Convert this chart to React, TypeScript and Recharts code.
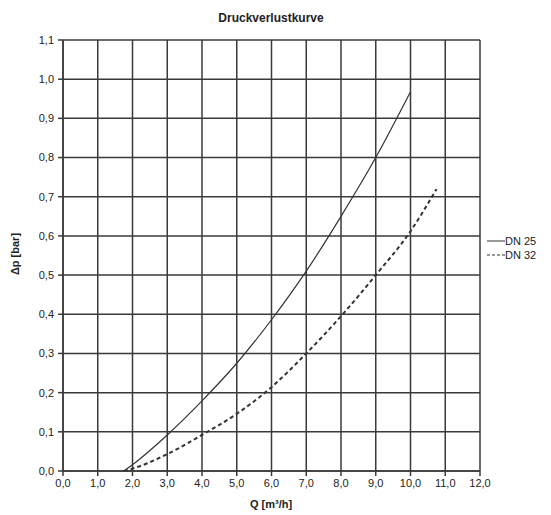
import {
  LineChart,
  Line,
  XAxis,
  YAxis,
  CartesianGrid,
} from "recharts";

// Q [m³/h] -> Δp [bar]
const dn25 = [
  { x: 1.75, y: 0 },
  { x: 2, y: 0.016 },
  { x: 3, y: 0.092 },
  { x: 4, y: 0.179 },
  { x: 5, y: 0.275 },
  { x: 6, y: 0.386 },
  { x: 7, y: 0.51 },
  { x: 8, y: 0.65 },
  { x: 9, y: 0.8 },
  { x: 10, y: 0.968 },
];

const dn32 = [
  { x: 1.75, y: 0 },
  { x: 2, y: 0.006 },
  { x: 3, y: 0.043 },
  { x: 4, y: 0.092 },
  { x: 5, y: 0.146 },
  { x: 6, y: 0.214 },
  { x: 7, y: 0.3 },
  { x: 8, y: 0.395 },
  { x: 9, y: 0.5 },
  { x: 10, y: 0.612 },
  { x: 10.75, y: 0.72 },
];

const xTicks = [0, 1, 2, 3, 4, 5, 6, 7, 8, 9, 10, 11, 12];
const yTicks = [0, 0.1, 0.2, 0.3, 0.4, 0.5, 0.6, 0.7, 0.8, 0.9, 1.0, 1.1];

const font = "'Liberation Sans', Arial, sans-serif";
const fmt = (v: number) => v.toFixed(1).replace(".", ",");

const labelStyle = {
  position: "absolute" as const,
  fontFamily: font,
  fontWeight: "bold" as const,
  fontSize: 11,
  color: "#222",
  textAlign: "center" as const,
};

export default function App() {
  return (
    <div style={{ position: "absolute", left: 0, top: 0, width: 551, height: 515, background: "#fff" }}>
      <div style={{ ...labelStyle, top: 11, left: 62, width: 418, fontSize: 12 }}>
        Druckverlustkurve
      </div>
      <div style={{ ...labelStyle, top: 498, left: 62, width: 418 }}>Q [m³/h]</div>
      <div
        style={{
          ...labelStyle,
          left: 15 - 30,
          top: 255 - 7,
          width: 60,
          transform: "rotate(-90deg)",
        }}
      >
        Δp [bar]
      </div>

      {/* legend */}
      <div
        style={{
          position: "absolute",
          left: 487,
          top: 234,
          fontFamily: font,
          fontSize: 11,
          color: "#222",
          lineHeight: "14px",
        }}
      >
        <div style={{ display: "flex", alignItems: "center" }}>
          <svg width={18} height={4}>
            <line x1={0} y1={2} x2={18} y2={2} stroke="#333" strokeWidth={1} />
          </svg>
          <span>DN 25</span>
        </div>
        <div style={{ display: "flex", alignItems: "center" }}>
          <svg width={18} height={4}>
            <line x1={0} y1={2} x2={18} y2={2} stroke="#333" strokeWidth={1} strokeDasharray="3 2" />
          </svg>
          <span>DN 32</span>
        </div>
      </div>

      <LineChart
        width={551}
        height={515}
        margin={{ top: 40, right: 71, bottom: 14, left: 0 }}
      >
        <CartesianGrid stroke="#3a3a3a" strokeWidth={1.5} />
        <XAxis
          type="number"
          dataKey="x"
          domain={[0, 12]}
          ticks={xTicks}
          tickFormatter={fmt}
          interval={0}
          height={30}
          tickSize={5}
          tickMargin={3}
          stroke="#3a3a3a"
          strokeWidth={1.5}
          tick={{ fontFamily: font, fontSize: 11, fill: "#222" }}
          allowDuplicatedCategory={false}
        />
        <YAxis
          type="number"
          dataKey="y"
          domain={[0, 1.1]}
          ticks={yTicks}
          tickFormatter={fmt}
          interval={0}
          width={63}
          tickSize={5}
          tickMargin={4}
          stroke="#3a3a3a"
          strokeWidth={1.5}
          tick={{ fontFamily: font, fontSize: 11, fill: "#222" }}
        />
        <Line
          data={dn25}
          dataKey="y"
          name="DN 25"
          type="monotone"
          stroke="#333"
          strokeWidth={1.2}
          dot={false}
          isAnimationActive={false}
        />
        <Line
          data={dn32}
          dataKey="y"
          name="DN 32"
          type="monotone"
          stroke="#333"
          strokeWidth={2}
          strokeDasharray="4 3"
          dot={false}
          isAnimationActive={false}
        />
      </LineChart>
    </div>
  );
}
